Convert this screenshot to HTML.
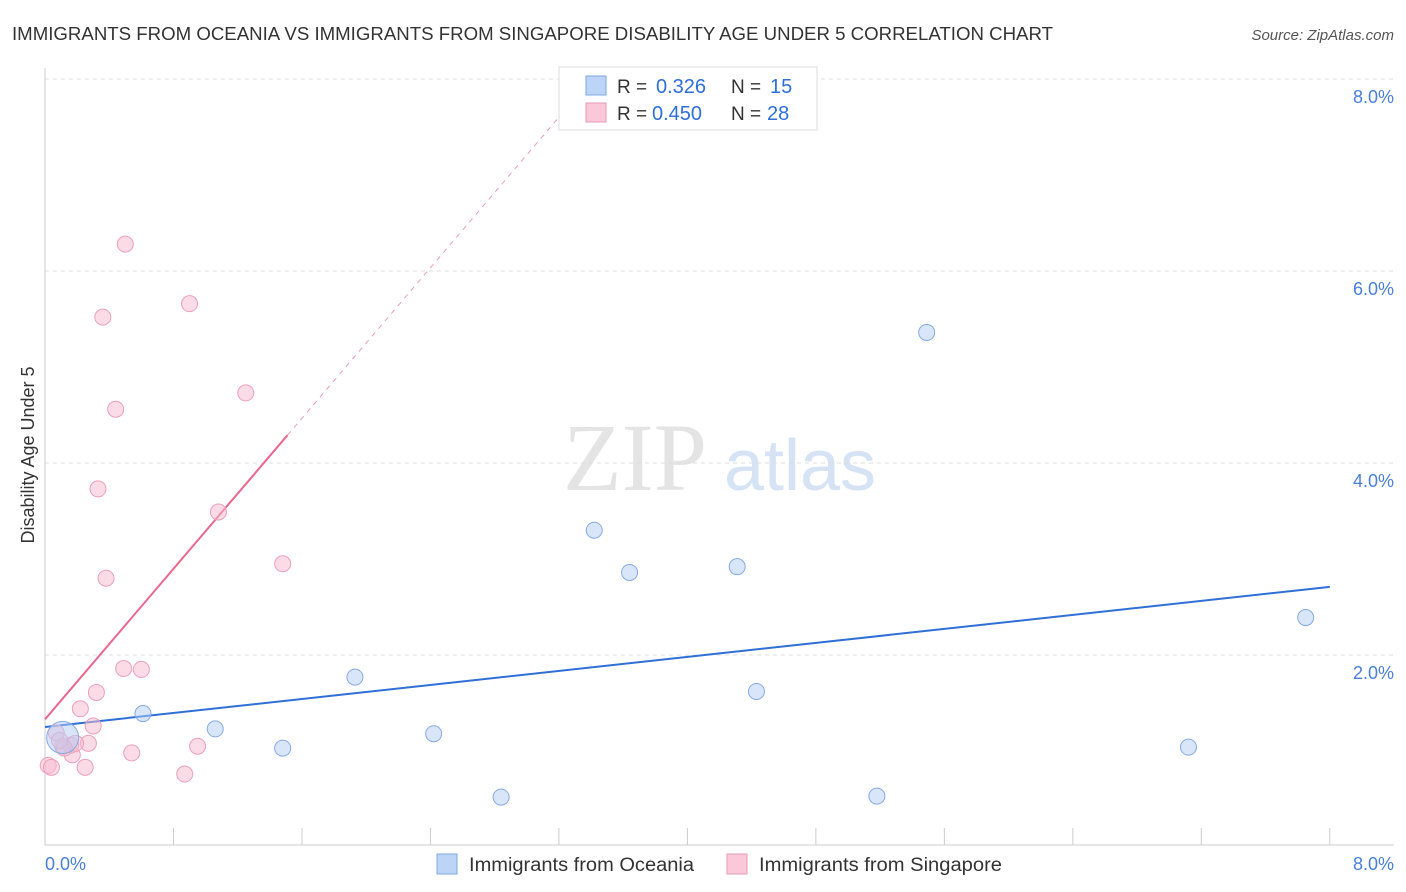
<!DOCTYPE html>
<html><head><meta charset="utf-8"><style>
body{margin:0;background:#fff;font-family:"Liberation Sans",sans-serif}
svg{display:block}
</style></head><body>
<svg width="1406" height="892" xmlns="http://www.w3.org/2000/svg">
<text x="12" y="40" font-size="18" fill="#333" textLength="1041" lengthAdjust="spacingAndGlyphs">IMMIGRANTS FROM OCEANIA VS IMMIGRANTS FROM SINGAPORE DISABILITY AGE UNDER 5 CORRELATION CHART</text>
<text x="1394" y="40" font-size="15" fill="#555" font-style="italic" text-anchor="end">Source: ZipAtlas.com</text>
<text x="635" y="490" font-size="96" fill="#e4e4e4" font-family="Liberation Serif" text-anchor="middle">ZIP</text>
<text x="800" y="490" font-size="72" fill="#d5e3f5" text-anchor="middle">atlas</text>
<g id="grid"></g><g id="axes"></g><g id="lines"></g><g id="pts"></g>
<text x="34" y="455" font-size="18" fill="#333" transform="rotate(-90 34 455)" text-anchor="middle">Disability Age Under 5</text>
<text x="45" y="870" font-size="18" fill="#4a7fd4">0.0%</text>
<text x="1394" y="870" font-size="18" fill="#4a7fd4" text-anchor="end">8.0%</text>
<g>
<rect x="559" y="67" width="258" height="63" fill="#fff" stroke="#ddd"/>
<rect x="586" y="76" width="20" height="19" fill="#bcd4f5" stroke="#7fa8e0"/>
<rect x="586" y="103" width="20" height="19" fill="#fac8d8" stroke="#e898b4"/>
<text x="617" y="93" font-size="19" fill="#333">R =</text>
<text x="656" y="93" font-size="20" fill="#2f6fd6">0.326</text>
<text x="731" y="93" font-size="19" fill="#333">N =</text>
<text x="770" y="93" font-size="20" fill="#2f6fd6">15</text>
<text x="617" y="120" font-size="19" fill="#333">R =</text>
<text x="652" y="120" font-size="20" fill="#2f6fd6">0.450</text>
<text x="731" y="120" font-size="19" fill="#333">N =</text>
<text x="767" y="120" font-size="20" fill="#2f6fd6">28</text>
</g>
<g><rect x="437" y="854" width="20" height="20" fill="#bcd4f5" stroke="#7fa8e0"/><text x="469" y="871" font-size="19" fill="#333" textLength="225" lengthAdjust="spacingAndGlyphs">Immigrants from Oceania</text></g>
<g><rect x="727" y="854" width="20" height="20" fill="#fac8d8" stroke="#e898b4"/><text x="759" y="871" font-size="19" fill="#333" textLength="243" lengthAdjust="spacingAndGlyphs">Immigrants from Singapore</text></g>
</svg>
<script>
const yTicks=[2,4,6,8];
const xTicks=[0,1,2,3,4,5,6,7,8];
const blueX=[0.11,0.61,1.06,1.48,1.93,2.42,2.84,3.42,3.64,4.31,4.43,5.18,5.49,7.12,7.85];
const blueY=[1.14,1.39,1.23,1.03,1.77,1.18,0.52,3.30,2.86,2.92,1.62,0.53,5.36,1.04,2.39];
const pinkX=[0.50,0.90,0.36,0.44,1.25,0.33,1.08,0.38,1.48,0.49,0.60,0.32,0.22,0.30,0.07,0.16,0.27,0.11,0.17,0.54,0.95,0.02,0.04,0.25,0.87,0.19,0.12,0.09];
const pinkY=[6.28,5.66,5.52,4.56,4.73,3.73,3.49,2.80,2.95,1.86,1.85,1.61,1.44,1.26,1.19,1.06,1.08,1.05,0.96,0.98,1.05,0.85,0.83,0.83,0.76,1.08,1.03,1.11];
const blueFit=[1.25,2.71];
const pinkFit=[1.33,1.96];
const X=v=>45+v*160.6, Y=v=>847-v*96;
const NS="http://www.w3.org/2000/svg";
function mk(t,a,p){const e=document.createElementNS(NS,t);for(const k in a)e.setAttribute(k,a[k]);document.getElementById(p).appendChild(e);return e;}
yTicks.forEach(t=>{
 const l=mk('line',{x1:45,x2:1394,y1:Y(t),y2:Y(t),stroke:'#ddd','stroke-dasharray':'4,4'},'grid');
 
 
 const tx=mk('text',{x:1394,y:Y(t)+24,'font-size':18,fill:'#4a7fd4','text-anchor':'end'},'grid');
 tx.textContent=t.toFixed(1)+'%';
 
 
});
let a=mk('line',{x1:45,x2:45,y1:68,y2:845,stroke:'#ccc'},'axes');


a=mk('line',{x1:45,x2:1394,y1:845,y2:845,stroke:'#ccc'},'axes');


for(let i=0;i<=10;i++){const v=i*0.8;const t=mk('line',{x1:X(v),x2:X(v),y1:828,y2:845,stroke:'#ccc'},'axes');
 
 }
let ln=mk('line',{x1:X(0),y1:Y(blueFit[0]),x2:X(8),y2:Y(blueFit[1]),stroke:'#2f6fd6','stroke-width':2},'lines');


const pe=1.51, pd=(8-pinkFit[0])/pinkFit[1];
ln=mk('line',{x1:X(0),y1:Y(pinkFit[0]),x2:X(pe),y2:Y(pinkFit[0]+pinkFit[1]*pe),stroke:'#e8688f','stroke-width':2},'lines');


ln=mk('line',{x1:X(pe),y1:Y(pinkFit[0]+pinkFit[1]*pe),x2:X(pd),y2:Y(8),stroke:'#e8a0b8','stroke-width':1,'stroke-dasharray':'5,5'},'lines');


pinkX.forEach((x,i)=>{const c=mk('circle',{cx:X(x),cy:Y(pinkY[i]),r:8,fill:'rgba(248,185,205,0.5)',stroke:'#eba0b9'},'pts');
 
 });
blueX.forEach((x,i)=>{const c=mk('circle',{cx:X(x),cy:Y(blueY[i]),r:i==0?16:8,fill:'rgba(180,205,245,0.5)',stroke:'#86abe2'},'pts');
 
 });
</script>
</body></html>
